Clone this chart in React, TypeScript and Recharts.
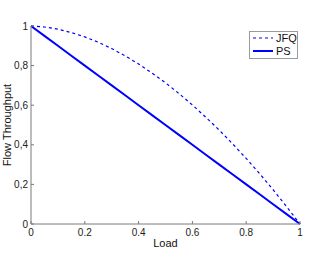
import { LineChart, Line, XAxis, YAxis, Legend } from "recharts"

// values
const loads = [0, 0.05, 0.1, 0.15, 0.2, 0.25, 0.3, 0.35, 0.4, 0.45, 0.5, 0.55, 0.6, 0.65, 0.7, 0.75, 0.8, 0.85, 0.9, 0.95, 1]
const jfqThroughput = [1, 0.995, 0.984, 0.967, 0.945, 0.918, 0.886, 0.849, 0.808, 0.762, 0.713, 0.659, 0.601, 0.539, 0.474, 0.404, 0.331, 0.254, 0.173, 0.088, 0]
const psThroughput = [1, 0.95, 0.9, 0.85, 0.8, 0.75, 0.7, 0.65, 0.6, 0.55, 0.5, 0.45, 0.4, 0.35, 0.3, 0.25, 0.2, 0.15, 0.1, 0.05, 0]
const xTicks = [0, 0.2, 0.4, 0.6, 0.8, 1]
const yTicks = [0, 0.2, 0.4, 0.6, 0.8, 1]

const data = loads.map((load, i) => ({
  load,
  JFQ: jfqThroughput[i],
  PS: psThroughput[i],
}))

const font = '"Liberation Sans", Arial, sans-serif'
const axisColor = "#7a7a7a"

const renderLegend = () => (
  <div
    style={{
      border: "1px solid #9a9a9a",
      background: "#fff",
      width: 47,
      height: 26,
      fontFamily: font,
      fontSize: 11,
      color: "#111",
      boxSizing: "content-box",
    }}
  >
    {[
      { name: "JFQ", dash: "3 3", w: 1.2 },
      { name: "PS", dash: undefined, w: 2 },
    ].map((item, i) => (
      <div key={item.name} style={{ position: "absolute", left: 1, top: 1 + i * 12.7, height: 12, display: "flex", alignItems: "center" }}>
        <svg width={24} height={12}>
          <line x1={3} y1={6} x2={23} y2={6} stroke="#0000ff" strokeWidth={item.w} strokeDasharray={item.dash} />
        </svg>
        <span style={{ marginLeft: 2, lineHeight: "12px" }}>{item.name}</span>
      </div>
    ))}
  </div>
)

export default function App() {
  return (
    <div style={{ position: "absolute", left: 0, top: 0, background: "#fff" }}>
      <LineChart width={310} height={259} data={data} margin={{ top: 26, right: 10, bottom: 5, left: 0 }}>
        <XAxis
          dataKey="load"
          type="number"
          domain={[0, 1]}
          ticks={xTicks}
          tickSize={-3}
          tickMargin={8}
          height={30}
          stroke={axisColor}
          tick={{ fill: "#222", fontSize: 10, fontFamily: font }}
          tickFormatter={(v: number) => String(v)}
          label={{ value: "Load", position: "insideBottom", offset: 7, fill: "#111", fontSize: 11, fontFamily: font }}
        />
        <YAxis
          type="number"
          domain={[0, 1]}
          ticks={yTicks}
          tickSize={-3}
          tickMargin={6}
          width={31}
          stroke={axisColor}
          tick={{ fill: "#222", fontSize: 10, fontFamily: font }}
          tickFormatter={(v: number) => String(v).replace(".", ",")}
          label={{
            value: "Flow Throughput",
            angle: -90,
            position: "insideLeft",
            offset: 7,
            fill: "#111",
            fontSize: 11,
            fontFamily: font,
            style: { textAnchor: "middle" },
          }}
        />
        <Legend
          layout="horizontal"
          verticalAlign="middle"
          align="center"
          content={renderLegend}
          wrapperStyle={{ left: 249, top: 31, width: 49, height: 28 }}
        />
        <Line
          dataKey="JFQ"
          type="linear"
          stroke="#0000ff"
          strokeWidth={1.2}
          strokeDasharray="3 3"
          dot={false}
          isAnimationActive={false}
        />
        <Line dataKey="PS" type="linear" stroke="#0000ff" strokeWidth={2} dot={false} isAnimationActive={false} />
      </LineChart>
    </div>
  )
}
